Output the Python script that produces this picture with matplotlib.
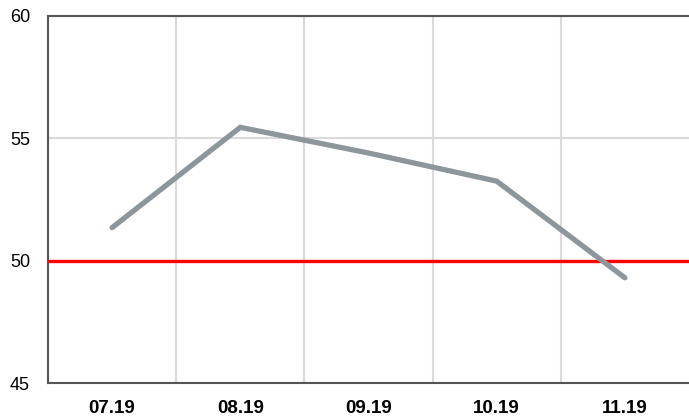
import numpy as np
import matplotlib.pyplot as plt

plt.rcParams['font.family'] = ['Liberation Sans', 'DejaVu Sans']

# du lieu
months = ['07.19', '08.19', '09.19', '10.19', '11.19']
values = [51.35, 55.45, 54.4, 53.25, 49.3]
threshold = 50
y_ticks = [45, 50, 55, 60]

fig = plt.figure(figsize=(6.89, 4.16), dpi=100)
ax = fig.add_axes([48/689, 1 - 383/416, 1 - 48/689, (383 - 16)/416])

x = np.arange(len(months))
ax.set_xlim(-0.5, len(months) - 0.5)
ax.set_ylim(45, 60)

# luoi
ax.set_xticks(np.arange(len(months) - 1) + 0.5, minor=True)
ax.grid(True, which='minor', axis='x', color='#dadada', lw=1.5)
ax.set_yticks(y_ticks)
ax.grid(True, which='major', axis='y', color='#dadada', lw=1.5)
ax.set_axisbelow(True)

ax.axhline(threshold, color='#ff0000', lw=2.4, zorder=3)
ax.plot(x, values, color='#8c969b', lw=3.8, solid_capstyle='round',
        solid_joinstyle='miter', zorder=4)

ax.set_xticks(x)
ax.set_xticklabels(months, fontsize=13.5, fontweight='bold')
ax.set_yticklabels([str(t) for t in y_ticks], fontsize=13)
ax.tick_params(which='both', length=0)
ax.tick_params(axis='x', pad=12)
ax.tick_params(axis='y', pad=13)

for s in ['left', 'top', 'bottom']:
    ax.spines[s].set_color('#555555')
    ax.spines[s].set_linewidth(1.5)
ax.spines['right'].set_visible(False)

fig.savefig('out.png', dpi=100)
